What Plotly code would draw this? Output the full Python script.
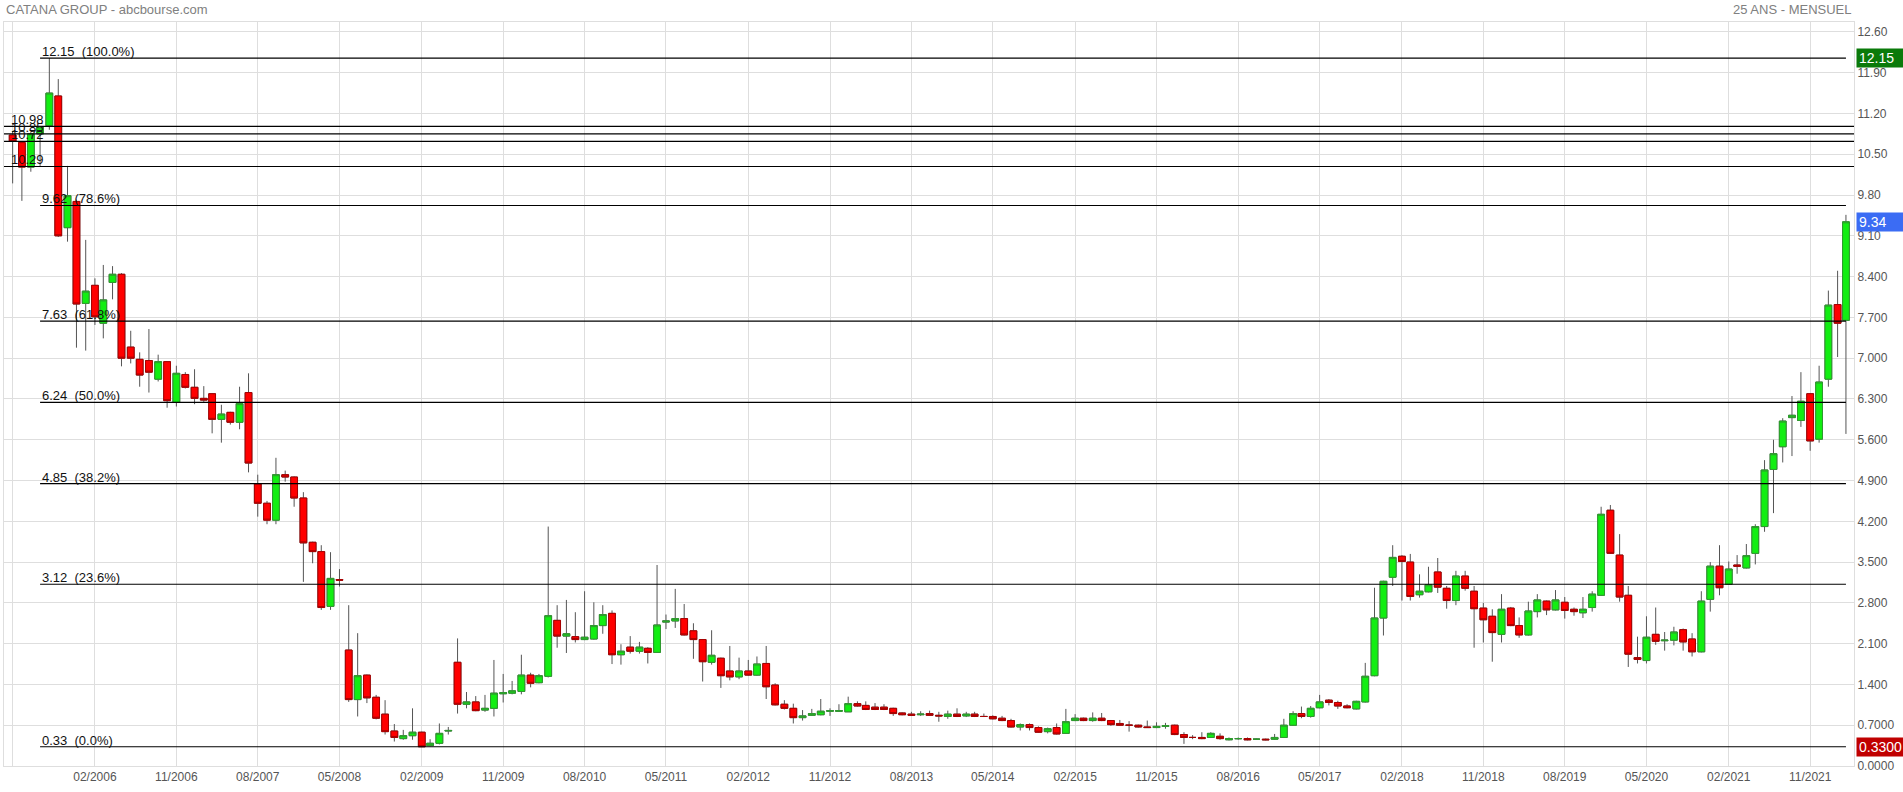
import plotly.graph_objects as go
import pandas as pd

# ---------------- data (monthly OHLC, first candle = May 2005) ----------------
first_month = "2005-05-01"

opens = [
    10.83, 10.70, 10.28, 10.85, 10.99, 11.50, 9.24, 9.69,                                   # 2005 (May-Dec)
    7.94, 8.25, 7.60, 8.30, 8.44, 7.19, 6.98, 6.96, 6.64, 6.94, 6.24, 6.72,                 # 2006
    6.50, 6.31, 6.39, 5.95, 6.07, 5.90, 6.41, 4.84, 4.51, 4.22, 5.00, 4.96,                 # 2007
    4.60, 3.84, 3.68, 2.74, 3.20, 1.99, 1.14, 1.56, 1.18, 0.89, 0.60, 0.47,                 # 2008
    0.52, 0.58, 0.35, 0.39, 0.60, 1.78, 1.06, 1.10, 0.96, 0.99, 1.24, 1.25,                 # 2009
    1.28, 1.56, 1.43, 1.54, 2.50, 2.23, 2.22, 2.17, 2.18, 2.41, 2.62, 1.91,                 # 2010
    2.04, 1.97, 2.02, 1.95, 2.47, 2.49, 2.53, 2.32, 2.17, 1.78, 1.85, 1.63,                 # 2011
    1.53, 1.63, 1.56, 1.76, 1.39, 1.06, 0.99, 0.83, 0.87, 0.88, 0.94, 0.94,                 # 2012
    0.93, 1.07, 1.04, 1.01, 1.01, 0.99, 0.91, 0.89, 0.88, 0.90, 0.87, 0.85,                 # 2013
    0.89, 0.86, 0.89, 0.85, 0.85, 0.82, 0.78, 0.67, 0.71, 0.66, 0.59, 0.66,                 # 2014
    0.56, 0.78, 0.82, 0.78, 0.82, 0.78, 0.73, 0.70, 0.70, 0.67, 0.66, 0.68,                 # 2015
    0.70, 0.54, 0.49, 0.49, 0.49, 0.51, 0.45, 0.47, 0.47, 0.46, 0.46, 0.46,                 # 2016
    0.49, 0.70, 0.90, 0.85, 1.00, 1.13, 1.09, 1.03, 0.98, 1.10, 1.55, 2.54,                 # 2017
    3.24, 3.60, 3.50, 2.94, 2.99, 3.33, 3.05, 2.84, 3.26, 3.00, 2.71, 2.57,                 # 2018
    2.26, 2.71, 2.41, 2.25, 2.65, 2.83, 2.68, 2.81, 2.69, 2.63, 2.72, 2.93,                 # 2019
    4.39, 3.62, 2.93, 1.86, 1.81, 2.26, 2.15, 2.16, 2.34, 2.18, 1.96, 2.86,                 # 2020
    3.43, 3.12, 3.45, 3.40, 3.65, 4.11, 5.09, 5.48, 5.98, 5.93, 6.39, 5.61,                 # 2021
    6.64, 7.92, 7.65,                                                                       # 2022 (Jan-Mar)
]
highs = [
    10.90, 10.72, 10.88, 10.98, 12.15, 11.79, 10.30, 9.72,
    9.03, 8.37, 8.60, 8.58, 8.46, 7.47, 7.10, 7.50, 7.06, 6.95, 6.87, 6.76,
    6.81, 6.52, 6.40, 6.20, 6.08, 6.51, 6.74, 5.00, 4.55, 5.29, 5.07, 4.97,
    4.70, 3.85, 3.79, 3.67, 3.38, 2.76, 2.28, 1.57, 1.22, 1.13, 0.72, 0.62,
    0.99, 0.59, 0.46, 0.73, 0.67, 2.19, 1.27, 1.20, 1.22, 1.82, 1.58, 1.46,
    1.91, 1.60, 1.58, 4.11, 2.76, 2.85, 2.64, 3.00, 2.81, 2.76, 2.67, 2.09,
    2.23, 2.13, 2.04, 3.45, 2.60, 3.04, 2.78, 2.45, 2.18, 2.33, 1.86, 2.06,
    1.86, 1.82, 1.88, 2.06, 1.42, 1.13, 1.07, 0.96, 0.98, 1.15, 0.99, 1.06,
    1.19, 1.11, 1.11, 1.08, 1.06, 1.00, 0.92, 0.93, 0.94, 0.95, 0.93, 0.95,
    0.99, 0.93, 0.93, 0.90, 0.87, 0.86, 0.81, 0.73, 0.73, 0.68, 0.66, 0.73,
    0.98, 0.89, 0.83, 0.92, 0.91, 0.79, 0.79, 0.77, 0.71, 0.78, 0.75, 0.74,
    0.71, 0.58, 0.53, 0.58, 0.58, 0.56, 0.49, 0.49, 0.49, 0.47, 0.47, 0.55,
    0.81, 0.94, 1.02, 1.03, 1.22, 1.15, 1.12, 1.06, 1.12, 1.77, 3.06, 3.18,
    3.79, 3.62, 3.64, 3.29, 3.42, 3.57, 3.09, 3.35, 3.35, 3.09, 2.80, 2.69,
    2.95, 2.73, 2.55, 2.82, 2.95, 2.84, 3.02, 2.90, 2.72, 2.90, 3.00, 4.45,
    4.48, 3.98, 3.09, 2.22, 2.57, 2.72, 2.30, 2.39, 2.36, 2.28, 3.00, 3.50,
    3.79, 3.51, 3.62, 3.81, 4.15, 5.25, 5.60, 5.97, 6.35, 6.76, 6.40, 6.87,
    8.16, 8.50, 9.46,
]
lows = [
    10.00, 9.70, 10.20, 10.30, 10.92, 9.08, 9.00, 7.18,
    7.13, 7.57, 7.34, 8.01, 6.86, 6.91, 6.51, 6.41, 6.60, 6.15, 6.17, 6.48,
    6.21, 6.25, 5.71, 5.55, 5.86, 5.78, 5.04, 4.28, 4.15, 4.15, 4.88, 4.45,
    3.16, 3.48, 2.68, 2.68, 3.08, 1.10, 0.85, 1.08, 0.80, 0.54, 0.42, 0.45,
    0.45, 0.33, 0.34, 0.37, 0.54, 0.90, 0.99, 0.94, 0.93, 0.85, 1.09, 1.23,
    1.23, 1.35, 1.42, 1.52, 2.03, 1.94, 2.12, 2.16, 2.17, 2.27, 1.75, 1.74,
    1.93, 1.93, 1.76, 1.94, 2.35, 2.37, 2.24, 1.84, 1.45, 1.74, 1.34, 1.47,
    1.49, 1.55, 1.55, 1.15, 1.04, 0.97, 0.73, 0.78, 0.86, 0.87, 0.86, 0.93,
    0.93, 1.02, 0.96, 0.96, 0.96, 0.86, 0.87, 0.86, 0.86, 0.86, 0.76, 0.81,
    0.84, 0.84, 0.84, 0.84, 0.80, 0.77, 0.66, 0.61, 0.61, 0.57, 0.56, 0.54,
    0.55, 0.77, 0.77, 0.76, 0.77, 0.69, 0.69, 0.59, 0.66, 0.66, 0.65, 0.64,
    0.53, 0.38, 0.46, 0.46, 0.48, 0.45, 0.44, 0.45, 0.44, 0.45, 0.44, 0.45,
    0.48, 0.69, 0.82, 0.83, 0.99, 1.04, 0.98, 0.99, 0.97, 1.09, 1.54, 2.24,
    3.09, 2.84, 2.84, 2.89, 2.98, 2.97, 2.70, 2.76, 3.01, 2.03, 2.12, 1.79,
    2.12, 2.40, 2.20, 2.24, 2.55, 2.59, 2.67, 2.53, 2.58, 2.54, 2.65, 2.92,
    3.64, 2.82, 1.70, 1.76, 1.76, 2.08, 1.98, 2.07, 1.98, 1.88, 1.95, 2.65,
    2.93, 3.11, 3.30, 3.39, 3.46, 4.02, 4.34, 5.21, 5.32, 5.82, 5.41, 5.55,
    6.51, 7.02, 5.70,
]
closes = [
    10.72, 10.28, 10.85, 10.97, 11.55, 9.10, 9.79, 7.93,
    8.15, 7.71, 8.00, 8.44, 7.00, 7.00, 6.71, 6.76, 6.94, 6.27, 6.74, 6.50,
    6.31, 6.28, 5.95, 6.04, 5.90, 6.22, 5.20, 4.51, 4.22, 5.00, 4.96, 4.60,
    3.83, 3.68, 2.72, 3.22, 3.19, 1.14, 1.55, 1.17, 0.82, 0.59, 0.49, 0.52,
    0.58, 0.33, 0.39, 0.56, 0.61, 1.06, 1.10, 0.95, 0.99, 1.25, 1.26, 1.29,
    1.56, 1.42, 1.55, 2.58, 2.23, 2.27, 2.17, 2.21, 2.41, 2.60, 1.91, 1.97,
    1.97, 2.04, 1.95, 2.42, 2.49, 2.53, 2.25, 2.17, 1.79, 1.90, 1.55, 1.53,
    1.63, 1.56, 1.75, 1.36, 1.05, 0.99, 0.83, 0.86, 0.90, 0.94, 0.95, 0.95,
    1.07, 1.03, 0.97, 0.97, 0.97, 0.90, 0.88, 0.87, 0.89, 0.87, 0.86, 0.89,
    0.85, 0.89, 0.85, 0.85, 0.81, 0.78, 0.67, 0.71, 0.66, 0.58, 0.64, 0.55,
    0.76, 0.82, 0.78, 0.82, 0.78, 0.71, 0.70, 0.70, 0.67, 0.66, 0.68, 0.69,
    0.54, 0.49, 0.49, 0.47, 0.56, 0.47, 0.47, 0.47, 0.45, 0.46, 0.45, 0.49,
    0.70, 0.90, 0.85, 0.99, 1.10, 1.09, 1.03, 1.00, 1.11, 1.54, 2.54, 3.17,
    3.58, 3.51, 2.91, 3.00, 3.11, 3.07, 2.84, 3.26, 3.05, 2.70, 2.51, 2.29,
    2.69, 2.41, 2.25, 2.66, 2.85, 2.68, 2.85, 2.67, 2.65, 2.69, 2.95, 4.32,
    3.65, 2.90, 1.92, 1.83, 2.21, 2.14, 2.16, 2.30, 2.13, 1.96, 2.83, 3.43,
    3.06, 3.38, 3.43, 3.61, 4.11, 5.08, 5.36, 5.92, 6.02, 6.26, 5.58, 6.59,
    7.91, 7.60, 9.34,
]

# Fibonacci retracement between the all-time low and high
fib_low = 0.33
fib_high = 12.15
fib_ratios = [1.0, 0.786, 0.618, 0.5, 0.382, 0.236, 0.0]
fib_start_index = 3
extra_levels = [10.98, 10.85, 10.72, 10.29]

y_tick_values = [0.0, 0.7, 1.4, 2.1, 2.8, 3.5, 4.2, 4.9, 5.6, 6.3,
                 7.0, 7.7, 8.4, 9.1, 9.8, 10.5, 11.2, 11.9, 12.6]
y_tick_text = ["0.0000", "0.7000", "1.400", "2.100", "2.800", "3.500", "4.200",
               "4.900", "5.600", "6.300", "7.000", "7.700", "8.400", "9.10",
               "9.80", "10.50", "11.20", "11.90", "12.60"]

title_left = "CATANA GROUP - abcbourse.com"
title_right = "25 ANS - MENSUEL"

# ---------------- figure ----------------
months = pd.date_range(first_month, periods=len(opens), freq="MS")
body_top = [max(o, c) for o, c in zip(opens, closes)]
body_bot = [min(o, c) for o, c in zip(opens, closes)]

GREEN = "#12ee12"
RED = "#ff0000"
FONT = "Liberation Sans, Arial, sans-serif"

fig = go.Figure()
# wicks (grey)
fig.add_trace(go.Candlestick(
    x=months, open=opens, high=highs, low=lows, close=closes,
    increasing=dict(line=dict(color="#555555", width=1), fillcolor=GREEN),
    decreasing=dict(line=dict(color="#555555", width=1), fillcolor=RED),
    hoverinfo="skip", showlegend=False,
))
# bodies
fig.add_trace(go.Candlestick(
    x=months, open=opens, high=body_top, low=body_bot, close=closes,
    increasing=dict(line=dict(color="#2f9a2f", width=1), fillcolor=GREEN),
    decreasing=dict(line=dict(color="#a80000", width=1), fillcolor=RED),
    showlegend=False,
))

x_start = months[fib_start_index].strftime("%Y-%m-%d")
x_end = months[-1].strftime("%Y-%m-%d")
shapes = []
annotations = []
for r in fib_ratios:
    lvl = fib_low + r * (fib_high - fib_low)
    shapes.append(dict(type="line", xref="x", yref="y", x0=x_start, x1=x_end,
                       y0=lvl, y1=lvl, line=dict(color="black", width=1.2)))
    annotations.append(dict(xref="x", yref="y", x=x_start, y=lvl, xanchor="left",
                            yanchor="bottom", yshift=-3, showarrow=False,
                            text=f"{lvl:.2f}&nbsp;&nbsp;({r * 100:.1f}%)",
                            font=dict(family=FONT, size=13, color="#111")))
for lvl in extra_levels:
    shapes.append(dict(type="line", xref="paper", yref="y", x0=0, x1=1,
                       y0=lvl, y1=lvl, line=dict(color="black", width=1.2)))
    annotations.append(dict(xref="paper", yref="y", x=0, xshift=5, y=lvl, xanchor="left",
                            yanchor="bottom", yshift=-3, showarrow=False,
                            text=f"{lvl:.2f}",
                            font=dict(family=FONT, size=13, color="#111")))

# price tags on the right axis
for val, txt, col in [(fib_high, f"{fib_high:.2f}", "#0a7a0a"),
                      (closes[-1], f"{closes[-1]:.2f}", "#3b6cf4"),
                      (fib_low, f"{fib_low:.4f}", "#c00000")]:
    annotations.append(dict(xref="paper", yref="y", x=1, xshift=2, y=val,
                            xanchor="left", yanchor="middle", showarrow=False,
                            text=txt, bgcolor=col, width=43, height=14, align="left",
                            borderpad=2, font=dict(family=FONT, size=14, color="white")))

annotations.append(dict(xref="paper", yref="paper", x=0, y=1, yshift=13, xanchor="left",
                        yanchor="middle", showarrow=False, text=title_left,
                        font=dict(family=FONT, size=13, color="#808080")))
annotations.append(dict(xref="paper", yref="paper", x=1, y=1, yshift=13, xanchor="right",
                        yanchor="middle", showarrow=False, text=title_right,
                        font=dict(family=FONT, size=13, color="#808080")))

fig.update_layout(
    width=1903, height=792,
    margin=dict(l=4, r=49, t=22, b=26),
    paper_bgcolor="white", plot_bgcolor="white",
    showlegend=False,
    boxgap=0.1, boxgroupgap=0.1,
    font=dict(family=FONT, size=12, color="#555"),
    shapes=shapes, annotations=annotations,
    xaxis=dict(type="date", range=["2005-04-02", "2022-03-28"],
               tick0="2006-02-01", dtick="M9", tickformat="%m/%Y",
               showgrid=True, gridcolor="#dedede", gridwidth=1,
               showline=True, linecolor="#dedede", mirror=True,
               ticks="", rangeslider=dict(visible=False),
               tickfont=dict(family=FONT, size=12, color="#555")),
    yaxis=dict(side="right", range=[0, 12.77], tickvals=y_tick_values, ticktext=y_tick_text,
               showgrid=True, gridcolor="#dedede", gridwidth=1, zeroline=False,
               showline=True, linecolor="#dedede", mirror=True, ticks="",
               tickfont=dict(family=FONT, size=12, color="#555")),
)

fig.write_html("out.html", include_plotlyjs=True,
               config={"displayModeBar": False},
               post_script="document.body.style.margin='0';document.body.style.overflow='hidden';")
